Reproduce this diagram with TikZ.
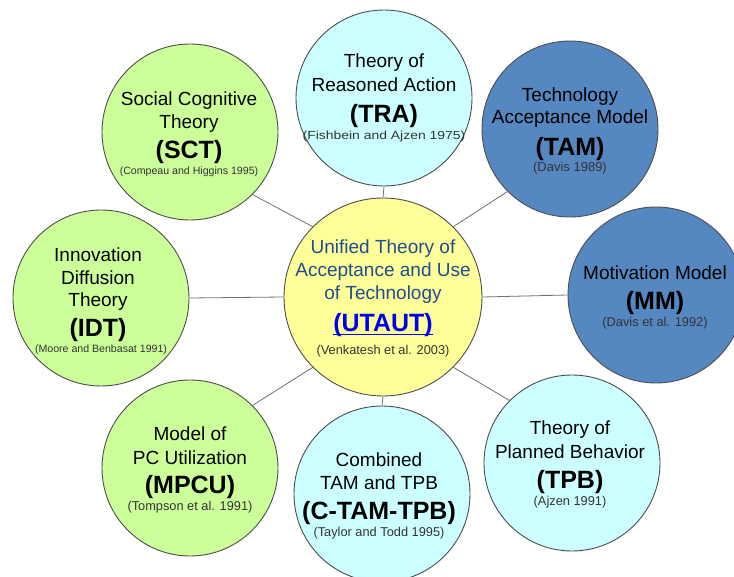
\documentclass[tikz,border=0pt]{standalone}
\usepackage{fontspec}
\setmainfont{Liberation Sans}
\usepackage{graphicx}
\definecolor{gfill}{HTML}{CCFF99}
\definecolor{cfill}{HTML}{CCFFFF}
\definecolor{bfill}{HTML}{5587C1}
\definecolor{yfill}{HTML}{FFFF99}
\definecolor{bord}{HTML}{4D4D4D}
\definecolor{lgray}{HTML}{707070}
\definecolor{utext}{HTML}{1F4E8F}
\definecolor{ublue}{HTML}{0000F0}
\definecolor{citc}{HTML}{333333}
\tikzset{
  bub/.style={circle, draw=bord, line width=0.9pt, minimum size=176pt, inner sep=0pt},
  ln/.style={anchor=base, inner sep=0pt, font=\fontsize{19}{22}\selectfont},
  acr/.style={anchor=base, inner sep=0pt, font=\fontsize{25}{28}\selectfont\bfseries},
  cit/.style={anchor=base, inner sep=0pt, font=\fontsize{12.8}{14}\selectfont, text=citc},
  citsm/.style={cit, font=\fontsize{10.6}{12}\selectfont},
  conn/.style={draw=lgray, line width=0.8pt}
}
\begin{document}
\begin{tikzpicture}[x=1pt,y=-1pt]
\useasboundingbox (0,0) rectangle (734,577);
\fill[white] (0,0) rectangle (734,577);
\clip (0,0) rectangle (734,577);

% circles
\node[bub, fill=cfill] (tra) at (384,98) {};
\node[bub, fill=gfill] (sct) at (190,132) {};
\node[bub, fill=bfill] (tam) at (570,129) {};
\node[bub, fill=gfill] (idt) at (101,298) {};
\node[bub, fill=yfill, minimum size=198pt] (u) at (383,297) {};
\node[bub, fill=bfill] (mm) at (656,295) {};
\node[bub, fill=gfill] (mpcu) at (190,468) {};
\node[bub, fill=cfill] (ct) at (382,494) {};
\node[bub, fill=cfill] (tpb) at (572,463) {};

% connectors
\draw[conn] (tra.south) -- (u.north);
\draw[conn] (tam.south west) -- (u.north east);
\draw[conn] (mm.west) -- (u.east);
\draw[conn] (tpb.north west) -- (u.south east);
\draw[conn] (ct.north) -- (u.south);
\draw[conn] (mpcu.north east) -- (u.south west);
\draw[conn] (idt.east) -- (u.west);
\draw[conn] (sct.south east) -- (u.north west);

% TRA
\node[ln] (tra1) at (384,68) {Theory of};
\node[ln] (tra2) at (384,92) {Reasoned Action};
\node[acr] (tra3) at (384,123) {(TRA)};
\node[cit, font=\fontsize{11.7}{13}\selectfont] (tra4) at (384,140) {\scalebox{1.19}[1]{(Fishbein and Ajzen 1975)}};

% SCT
\node[ln] (sct1) at (189,106) {Social Cognitive};
\node[ln] (sct2) at (189,129) {Theory};
\node[acr] (sct3) at (189,159) {(SCT)};
\node[citsm] (sct4) at (189,175) {(Compeau and Higgins 1995)};

% TAM
\node[ln] (tam1) at (570,101.7) {Technology};
\node[ln] (tam2) at (570,124) {Acceptance Model};
\node[acr] (tam3) at (570,156) {(TAM)};
\node[cit, font=\fontsize{13}{14}\selectfont] (tam4) at (570,171.7) {(Davis 1989)};

% MM
\node[ln] (mm1) at (655,279.3) {Motivation Model};
\node[acr] (mm2) at (655,309.3) {(MM)};
\node[cit] (mm3) at (655,326.7) {(Davis et al. 1992)};

% UTAUT
\node[ln, text=utext] (u1) at (383,254) {Unified Theory of};
\node[ln, text=utext] (u2) at (383,276.7) {Acceptance and Use};
\node[ln, text=utext] (u3) at (383,300) {of Technology};
\node[acr, text=ublue] (u4) at (383,331.7) {(UTAUT)};
\draw[ublue, line width=1.3pt] ([yshift=-2.6pt]u4.base west) -- ([yshift=-2.6pt]u4.base east);
\node[cit] (u5) at (383,355) {(Venkatesh et al. 2003)};

% IDT
\node[ln] (idt1) at (98,262) {Innovation};
\node[ln] (idt2) at (98,285) {Diffusion};
\node[ln] (idt3) at (98,307) {Theory};
\node[acr] (idt4) at (98,337) {(IDT)};
\node[citsm] (idt5) at (101,353) {(Moore and Benbasat 1991)};

% MPCU
\node[ln] (mpcu1) at (190,440) {Model of};
\node[ln] (mpcu2) at (190,464) {PC Utilization};
\node[acr] (mpcu3) at (190,493.3) {(MPCU)};
\node[cit] (mpcu4) at (190,510.7) {(Tompson et al. 1991)};

% C-TAM-TPB
\node[ln] (ct1) at (379,466) {Combined};
\node[ln] (ct2) at (379,489.3) {TAM and TPB};
\node[acr] (ct3) at (379,519.3) {(C-TAM-TPB)};
\node[cit] (ct4) at (379,536) {(Taylor and Todd 1995)};

% TPB
\node[ln] (tpb1) at (570,435) {Theory of};
\node[ln] (tpb2) at (570,458.7) {Planned Behavior};
\node[acr] (tpb3) at (570,488.3) {(TPB)};
\node[cit] (tpb4) at (570,505.7) {(Ajzen 1991)};
\end{tikzpicture}
\end{document}
